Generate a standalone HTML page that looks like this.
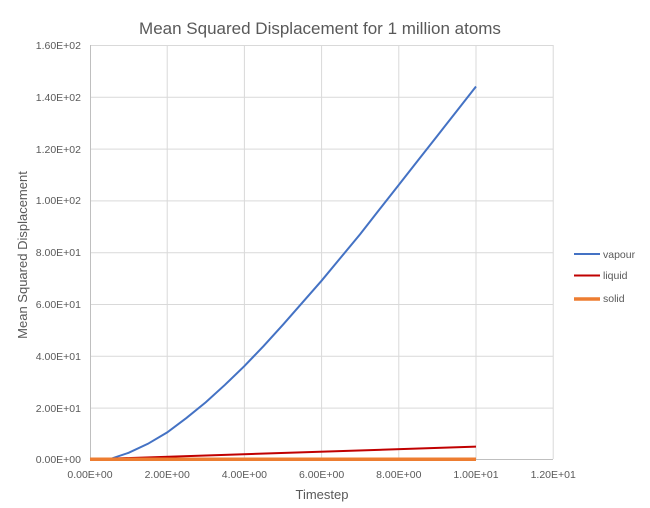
<!DOCTYPE html>
<html><head><meta charset="utf-8"><style>
body{margin:0;background:#fff;}
svg text{font-family:"Liberation Sans",sans-serif;fill:#595959;}
</style></head><body>
<svg width="650" height="503" xmlns="http://www.w3.org/2000/svg">
<rect width="650" height="503" fill="#fff"/>
<text x="320" y="34" font-size="17" text-anchor="middle">Mean Squared Displacement for 1 million atoms</text>
<g stroke="#d9d9d9" stroke-width="1">
<line x1="90" y1="45.5" x2="553" y2="45.5"/>
<line x1="90" y1="97.3" x2="553" y2="97.3"/>
<line x1="90" y1="149.1" x2="553" y2="149.1"/>
<line x1="90" y1="200.9" x2="553" y2="200.9"/>
<line x1="90" y1="252.7" x2="553" y2="252.7"/>
<line x1="90" y1="304.5" x2="553" y2="304.5"/>
<line x1="90" y1="356.3" x2="553" y2="356.3"/>
<line x1="90" y1="408.1" x2="553" y2="408.1"/>
<line x1="167.2" y1="45" x2="167.2" y2="459"/>
<line x1="244.4" y1="45" x2="244.4" y2="459"/>
<line x1="321.6" y1="45" x2="321.6" y2="459"/>
<line x1="398.8" y1="45" x2="398.8" y2="459"/>
<line x1="476" y1="45" x2="476" y2="459"/>
<line x1="553.2" y1="45" x2="553.2" y2="459"/>
</g>
<g stroke="#bfbfbf"><line x1="90.5" y1="45" x2="90.5" y2="460"/><line x1="90" y1="459.5" x2="553" y2="459.5"/></g>
<g font-size="10.5" text-anchor="end">
<text x="81" y="49">1.60E+02</text><text x="81" y="101">1.40E+02</text><text x="81" y="153">1.20E+02</text>
<text x="81" y="204">1.00E+02</text><text x="81" y="256">8.00E+01</text><text x="81" y="308">6.00E+01</text>
<text x="81" y="360">4.00E+01</text><text x="81" y="412">2.00E+01</text><text x="81" y="463">0.00E+00</text>
</g>
<g font-size="10.5" text-anchor="middle">
<text x="90" y="478">0.00E+00</text><text x="167.2" y="478">2.00E+00</text><text x="244.4" y="478">4.00E+00</text>
<text x="321.6" y="478">6.00E+00</text><text x="398.8" y="478">8.00E+00</text><text x="476" y="478">1.00E+01</text>
<text x="553.2" y="478">1.20E+01</text>
</g>
<text x="322" y="499" font-size="13" text-anchor="middle">Timestep</text>
<text transform="translate(27,255) rotate(-90)" font-size="13" text-anchor="middle">Mean Squared Displacement</text>
<polyline fill="none" stroke="#4472c4" stroke-width="2" points="90,459.3 109.3,459.3 128.6,452.8 147.9,443.8 167.2,432.4 186.5,417.9 205.8,402.3 225.1,384.7 244.4,366.1 263.7,345.9 283,324.7 302.3,302.7 321.6,280.7 340.9,257.4 360.2,234.1 379.5,209.4 398.8,184.9 418.1,160.3 437.4,135.7 456.7,111.1 476,86.5"/>
<line x1="90" y1="459.3" x2="476" y2="446.6" stroke="#c00000" stroke-width="2"/>
<line x1="90" y1="459.3" x2="476" y2="459.3" stroke="#ed7d31" stroke-width="3.5"/>
<line x1="574" y1="254" x2="600" y2="254" stroke="#4472c4" stroke-width="2"/>
<line x1="574" y1="275.5" x2="600" y2="275.5" stroke="#c00000" stroke-width="2"/>
<line x1="574" y1="299" x2="600" y2="299" stroke="#ed7d31" stroke-width="3.5"/>
<g font-size="10.5"><text x="603" y="258">vapour</text><text x="603" y="279">liquid</text><text x="603" y="302">solid</text></g>
</svg>
</body></html>
